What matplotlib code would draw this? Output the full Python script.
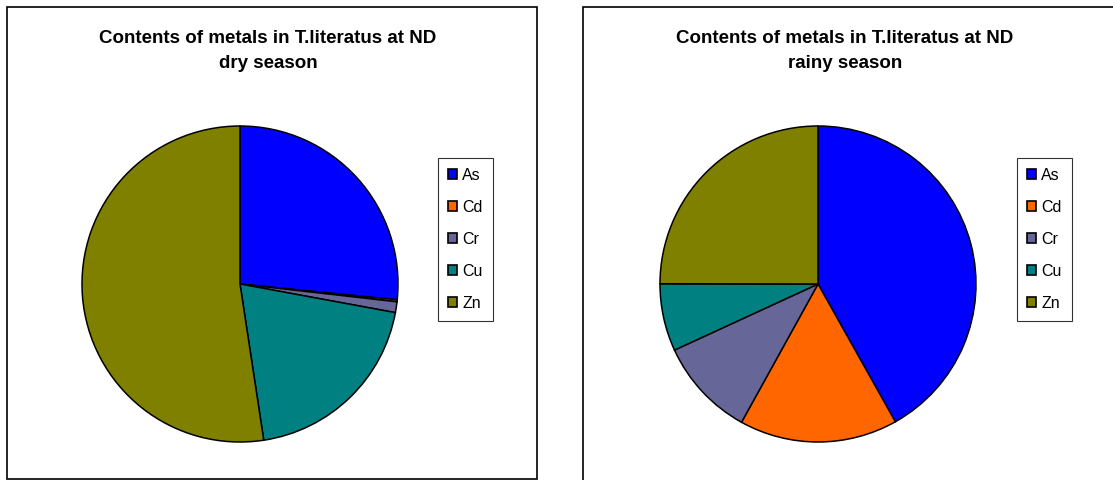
import matplotlib
matplotlib.use("Agg")
import matplotlib.pyplot as plt
from matplotlib.patches import Patch, Rectangle

plt.rcParams['font.family'] = ['Liberation Sans', 'DejaVu Sans']

metals = ['As', 'Cd', 'Cr', 'Cu', 'Zn']
colors = ['#0000FF', '#FF6600', '#666699', '#008080', '#808000']
dry_season = [26.6, 0.2, 1.1, 19.7, 52.4]
rainy_season = [41.9, 16.2, 10.1, 6.9, 25.0]
titles = ['Contents of metals in T.literatus at ND\ndry season',
          'Contents of metals in T.literatus at ND\nrainy season']

W, H = 1113, 480
fig = plt.figure(figsize=(W / 100, H / 100), dpi=100)

# chart area borders (pixel coords, top-left origin)
for x0, y0, x1, y1 in [(7, 7, 537, 479), (583, 7, 1120, 490)]:
    fig.patches.append(Rectangle((x0 / W, 1 - y1 / H), (x1 - x0) / W, (y1 - y0) / H,
                                 transform=fig.transFigure, fill=False,
                                 edgecolor='black', linewidth=1.2))

R = 158  # pie radius in px
pad = 3
panels = [(240, 284, 268, 438, dry_season),
          (818, 284, 845, 1017, rainy_season)]
for (cx, cy, tx, lx, vals), title in zip(panels, titles):
    half = R + pad
    ax = fig.add_axes([(cx - half) / W, (H - cy - half) / H, 2 * half / W, 2 * half / H])
    ax.pie(vals, colors=colors, startangle=90, counterclock=False, radius=1,
           wedgeprops=dict(edgecolor='black', linewidth=1.1))
    lim = half / R
    ax.set_xlim(-lim, lim)
    ax.set_ylim(-lim, lim)
    ax.set_aspect('equal')
    ax.axis('off')

    fig.text(tx / W, 1 - 51 / H, title, ha='center', va='center',
             fontsize=13.5, fontweight='bold', linespacing=1.62)

    handles = [Patch(facecolor=c, edgecolor='black', linewidth=1.2) for c in colors]
    leg = fig.legend(handles, metals, loc='upper left',
                     bbox_to_anchor=(lx / W, 1 - 158 / H),
                     bbox_transform=fig.transFigure,
                     fontsize=11.5, frameon=True, fancybox=False, shadow=False,
                     handlelength=0.6, handleheight=0.6, handletextpad=0.3,
                     labelspacing=1.06, borderpad=0.62, borderaxespad=0)
    leg.get_frame().set_edgecolor('black')
    leg.get_frame().set_linewidth(0.8)

fig.savefig('out.png', dpi=100)
